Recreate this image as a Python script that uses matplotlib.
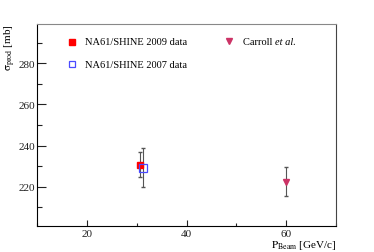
import matplotlib
matplotlib.use("Agg")
import matplotlib.pyplot as plt
from matplotlib.ticker import MultipleLocator

plt.rcParams['font.family'] = ['Liberation Serif', 'DejaVu Serif']
plt.rcParams['mathtext.fontset'] = 'stix'

# data
p09 = [30.7]
s09 = [230.8]
e09 = [6.0]

p07 = [31.2]
s07 = [229.3]
e07 = [9.3]

pcar = [60.0]
scar = [222.4]
ecar = [7.0]

fig = plt.figure(figsize=(3.74, 2.53), dpi=100)
ax = fig.add_axes([37/374, 1-227/253, (336-37)/374, (227-25)/253])

ax.errorbar(p09, s09, yerr=e09, fmt='none', ecolor='#555555', elinewidth=0.8, capsize=1.2)
ax.errorbar(p07, s07, yerr=e07, fmt='none', ecolor='#555555', elinewidth=0.8, capsize=1.2)
ax.errorbar(pcar, scar, yerr=ecar, fmt='none', ecolor='#555555', elinewidth=0.8, capsize=1.2)
ax.plot(p09, s09, 's', color='#ff0000', ms=5, zorder=3)
ax.plot(p07, s07, 's', mfc='none', mec='#4a4aff', mew=0.9, ms=5.5, zorder=3)
ax.plot(pcar, scar, 'v', color='#cc3366', ms=5, zorder=3)

ax.set_xlim(10, 70)
ax.set_ylim(201, 299)
ax.xaxis.set_major_locator(MultipleLocator(20))
ax.xaxis.set_minor_locator(MultipleLocator(10))
ax.yaxis.set_major_locator(MultipleLocator(20))
ax.yaxis.set_minor_locator(MultipleLocator(10))
ax.tick_params(which='both', direction='in', labelsize=8, width=0.8, colors='#222222')
ax.tick_params(axis='y', which='major', length=6.5, pad=1.5)
ax.tick_params(axis='y', which='minor', length=3.5)
ax.tick_params(axis='x', which='major', length=4, pad=2)
ax.tick_params(axis='x', which='minor', length=2.5)
ax.spines['top'].set_color('#888888')
ax.spines['right'].set_color('#444444')
for s in ax.spines.values():
    s.set_linewidth(0.8)

# legend drawn by hand inside the axes
ax.plot([17], [290.5], 's', color='#ff0000', ms=5)
ax.text(19.6, 290.5, 'NA61/SHINE 2009 data', fontsize=7.5, va='center')
ax.plot([17], [279.4], 's', mfc='none', mec='#4a4aff', mew=0.9, ms=5)
ax.text(19.6, 279.4, 'NA61/SHINE 2007 data', fontsize=7.5, va='center')
ax.plot([48.6], [290.9], 'v', color='#cc3366', ms=4)
t = ax.text(51.4, 290.5, 'Carroll ', fontsize=7.5, va='center')
ax.annotate('et al.', xycoords=t, xy=(1, 0.5), va='center', fontsize=7.5, style='italic')

fig.text(336/374, 1-246/253, '$\\mathrm{P_{Beam}}$ [GeV/c]', fontsize=8, ha='right', va='center')
fig.text(10/374, 1-48/253, '$\\mathrm{\\sigma_{prod}}$ [mb]', fontsize=8, rotation=90, ha='center', va='center')

fig.savefig('out.png', dpi=100)
